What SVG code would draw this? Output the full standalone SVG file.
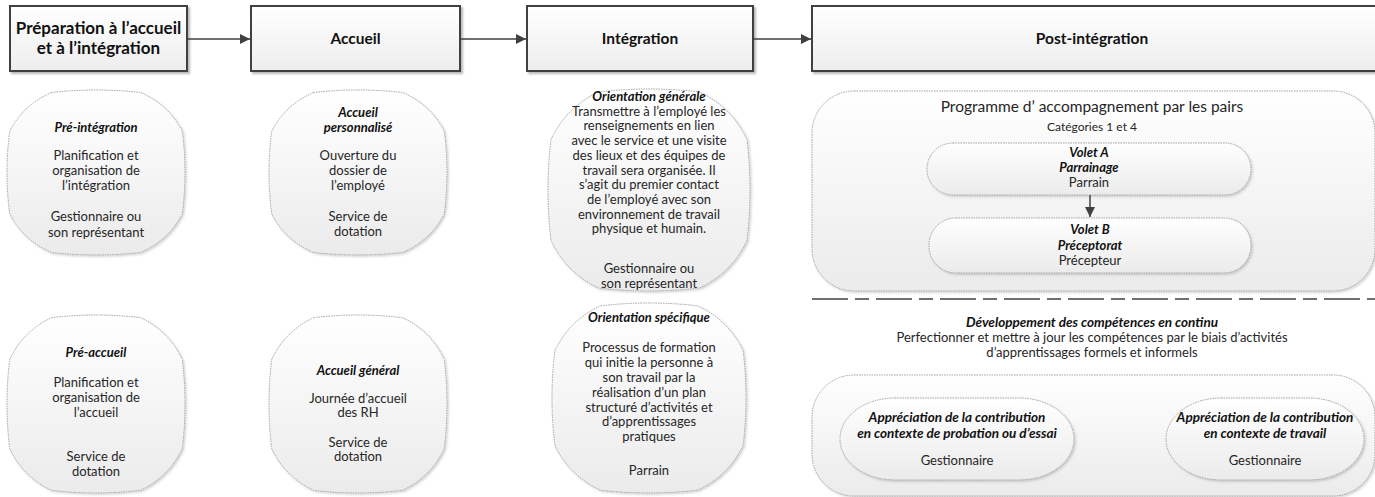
<svg xmlns="http://www.w3.org/2000/svg" width="1375" height="497" viewBox="0 0 1375 497">
<defs>
<linearGradient id="gHead" x1="0" y1="0" x2="0" y2="1"><stop offset="0" stop-color="#ffffff"/><stop offset="1" stop-color="#ededed"/></linearGradient>
<linearGradient id="gShape" x1="0" y1="0" x2="0" y2="1"><stop offset="0" stop-color="#ffffff"/><stop offset="1" stop-color="#ebebeb"/></linearGradient>
<filter id="sh" x="-10%" y="-10%" width="130%" height="130%"><feDropShadow dx="2" dy="2" stdDeviation="1.2" flood-color="#000" flood-opacity="0.28"/></filter>
<filter id="sh2" x="-10%" y="-10%" width="130%" height="130%"><feDropShadow dx="1.5" dy="1.5" stdDeviation="1.2" flood-color="#000" flood-opacity="0.18"/></filter>
<marker id="arr" viewBox="0 0 10 10" refX="10" refY="5" markerWidth="10" markerHeight="10" markerUnits="userSpaceOnUse" orient="auto"><path d="M0,0 L10,5 L0,10 Z" fill="#404040"/></marker>
</defs>
<style>
.head{fill:url(#gHead);stroke:#404040;stroke-width:2;filter:url(#sh)}
.shape{fill:url(#gShape);stroke:#9a9a9a;stroke-width:0.9;stroke-dasharray:1.5 1;filter:url(#sh2)}
.ht{font-family:Lato,"Liberation Sans",sans-serif;font-weight:bold;fill:#111;text-anchor:middle}
.t{font-family:Lato,"Liberation Sans",sans-serif;font-size:13px;fill:#262626;text-anchor:middle}
.ti{font-family:Lato,"Liberation Sans",sans-serif;font-size:13px;font-weight:bold;font-style:italic;fill:#111;text-anchor:middle}
.tb{font-size:13.5px}
.conn{stroke:#404040;stroke-width:1.5;fill:none;marker-end:url(#arr)}
</style>

<g id="header-preparation">
<rect class="head" x="10" y="6" width="177" height="65"/>
<text class="ht" font-size="17" x="98.5" y="34">Préparation à l’accueil</text>
<text class="ht" font-size="17" x="98.5" y="54">et à l’intégration</text>
</g>
<g id="header-accueil">
<rect class="head" x="251" y="6" width="209" height="65"/>
<text class="ht" font-size="15.5" x="355.5" y="44">Accueil</text>
</g>
<g id="header-integration">
<rect class="head" x="527" y="6" width="226" height="65"/>
<text class="ht" font-size="15.5" x="640" y="44">Intégration</text>
</g>
<g id="header-post">
<rect class="head" x="812" y="6" width="570" height="65"/>
<text class="ht" font-size="15.5" x="1092" y="44">Post-intégration</text>
</g>

<g id="pre-integration">
<path class="shape" d="M51.5,92.5 Q96,87.5 140.5,92.5 Q169,104.9 182.3,131.3 Q187.7,172.5 182.3,213.8 Q169,240.2 140.5,252.5 Q96,257.5 51.5,252.5 Q23,240.2 9.7,213.8 Q4.3,172.5 9.7,131.3 Q23,104.9 51.5,92.5 Z"/>
<text class="ti" x="96" y="132">Pré-intégration</text>
<text class="t" x="96" y="160">Planification et</text>
<text class="t" x="96" y="175">organisation de</text>
<text class="t" x="96" y="190">l’intégration</text>
<text class="t" x="96" y="221">Gestionnaire ou</text>
<text class="t" x="96" y="237">son représentant</text>
</g>

<g id="accueil-personnalise">
<path class="shape" d="M313.5,92.5 Q358,87.5 402.5,92.5 Q431,104.9 444.3,131.3 Q449.7,172.5 444.3,213.8 Q431,240.2 402.5,252.5 Q358,257.5 313.5,252.5 Q285,240.2 271.7,213.8 Q266.3,172.5 271.7,131.3 Q285,104.9 313.5,92.5 Z"/>
<text class="ti" x="358" y="117">Accueil</text>
<text class="ti" x="358" y="132">personnalisé</text>
<text class="t" x="358" y="160">Ouverture du</text>
<text class="t" x="358" y="175">dossier de</text>
<text class="t" x="358" y="190">l’employé</text>
<text class="t" x="358" y="221">Service de</text>
<text class="t" x="358" y="236">dotation</text>
</g>

<g id="orientation-generale">
<path class="shape" d="M598.5,92 Q649,86 699.5,92 Q731.8,107.2 747,139.5 Q753,190 747,240.5 Q731.8,272.8 699.5,288 Q649,294 598.5,288 Q566.2,272.8 551,240.5 Q545,190 551,139.5 Q566.2,107.2 598.5,92 Z"/>
<text class="ti" x="649" y="101">Orientation générale</text>
<text class="t" x="649" y="115.7">Transmettre à l’employé les</text>
<text class="t" x="649" y="130.4">renseignements en lien</text>
<text class="t" x="649" y="145.1">avec le service et une visite</text>
<text class="t" x="649" y="159.8">des lieux et des équipes de</text>
<text class="t" x="649" y="174.5">travail sera organisée. Il</text>
<text class="t" x="649" y="189.2">s’agit du premier contact</text>
<text class="t" x="649" y="203.9">de l’employé avec son</text>
<text class="t" x="649" y="218.6">environnement de travail</text>
<text class="t" x="649" y="233.3">physique et humain.</text>
<text class="t" x="649" y="273">Gestionnaire ou</text>
<text class="t" x="649" y="288">son représentant</text>
</g>

<g id="pre-accueil">
<path class="shape" d="M51.5,317.7 Q96,312.3 140.5,317.7 Q169,331 182.3,359.5 Q187.7,404 182.3,448.5 Q169,477 140.5,490.3 Q96,495.7 51.5,490.3 Q23,477 9.7,448.5 Q4.3,404 9.7,359.5 Q23,331 51.5,317.7 Z"/>
<text class="ti" x="96" y="357">Pré-accueil</text>
<text class="t" x="96" y="387">Planification et</text>
<text class="t" x="96" y="402">organisation de</text>
<text class="t" x="96" y="417">l’accueil</text>
<text class="t" x="96" y="461">Service de</text>
<text class="t" x="96" y="476">dotation</text>
</g>

<g id="accueil-general">
<path class="shape" d="M313.5,317.7 Q358,312.3 402.5,317.7 Q431,331 444.3,359.5 Q449.7,404 444.3,448.5 Q431,477 402.5,490.3 Q358,495.7 313.5,490.3 Q285,477 271.7,448.5 Q266.3,404 271.7,359.5 Q285,331 313.5,317.7 Z"/>
<text class="ti" x="358" y="375">Accueil général</text>
<text class="t" x="358" y="403">Journée d’accueil</text>
<text class="t" x="358" y="417">des RH</text>
<text class="t" x="358" y="447">Service de</text>
<text class="t" x="358" y="461">dotation</text>
</g>

<g id="orientation-specifique">
<path class="shape" d="M600.5,305.85 Q649,300.15 697.5,305.85 Q728.5,320.1 743.1,350.5 Q748.9,398 743.1,445.5 Q728.5,475.9 697.5,490.15 Q649,495.85 600.5,490.15 Q569.5,475.9 554.9,445.5 Q549.1,398 554.9,350.5 Q569.5,320.1 600.5,305.85 Z"/>
<text class="ti" x="649" y="322">Orientation spécifique</text>
<text class="t" x="649" y="352">Processus de formation</text>
<text class="t" x="649" y="367">qui initie la personne à</text>
<text class="t" x="649" y="382">son travail par la</text>
<text class="t" x="649" y="397">réalisation d’un plan</text>
<text class="t" x="649" y="412">structuré d’activités et</text>
<text class="t" x="649" y="426">d’apprentissages</text>
<text class="t" x="649" y="441">pratiques</text>
<text class="t" x="649" y="475">Parrain</text>
</g>

<g id="programme-pairs">
<rect class="shape" x="812" y="91" width="563" height="200" rx="42" ry="42"/>
<text class="t" style="font-size:15.5px" x="1092" y="112">Programme d’ accompagnement par les pairs</text>
<text class="t" style="font-size:12px" x="1092" y="131">Catégories 1 et 4</text>
</g>
<g id="volet-a">
<rect class="shape" x="927" y="143" width="324" height="52" rx="26" ry="26"/>
<text class="ti" x="1089" y="157">Volet A</text>
<text class="ti" x="1089" y="172">Parrainage</text>
<text class="t" x="1089" y="187">Parrain</text>
</g>
<g id="volet-b">
<rect class="shape" x="929" y="218" width="322" height="55" rx="27" ry="27"/>
<text class="ti" x="1090" y="234">Volet B</text>
<text class="ti" x="1090" y="250">Préceptorat</text>
<text class="t" x="1090" y="265">Précepteur</text>
</g>

<g id="separateur">
<line x1="812" y1="299" x2="1375" y2="299" stroke="#404040" stroke-width="1.5" stroke-dasharray="36 7 14 7"/>
</g>

<g id="developpement">
<text class="ti tb" x="1092" y="327">Développement des compétences en continu</text>
<text class="t" x="1092" y="342">Perfectionner et mettre à jour les compétences par le biais d’activités</text>
<text class="t" x="1092" y="357">d’apprentissages formels et informels</text>
</g>

<g id="appreciation-cadre">
<rect class="shape" x="812" y="375" width="563" height="121" rx="42" ry="42"/>
</g>
<g id="appreciation-probation">
<rect class="shape" x="840" y="398" width="234" height="82" rx="55" ry="41"/>
<text class="ti tb" x="957" y="422">Appréciation de la contribution</text>
<text class="ti tb" x="957" y="438">en contexte de probation ou d’essai</text>
<text class="t" x="957" y="465">Gestionnaire</text>
</g>
<g id="appreciation-travail">
<rect class="shape" x="1166" y="398" width="198" height="82" rx="55" ry="41"/>
<text class="ti tb" x="1265" y="422">Appréciation de la contribution</text>
<text class="ti tb" x="1265" y="438">en contexte de travail</text>
<text class="t" x="1265" y="465">Gestionnaire</text>
</g>

<g id="connectors">
<line class="conn" x1="187" y1="39" x2="250" y2="39"/>
<line class="conn" x1="460" y1="39" x2="526" y2="39"/>
<line class="conn" x1="753" y1="39" x2="811" y2="39"/>
<line class="conn" x1="1090" y1="195" x2="1090" y2="217"/>
</g>
</svg>
